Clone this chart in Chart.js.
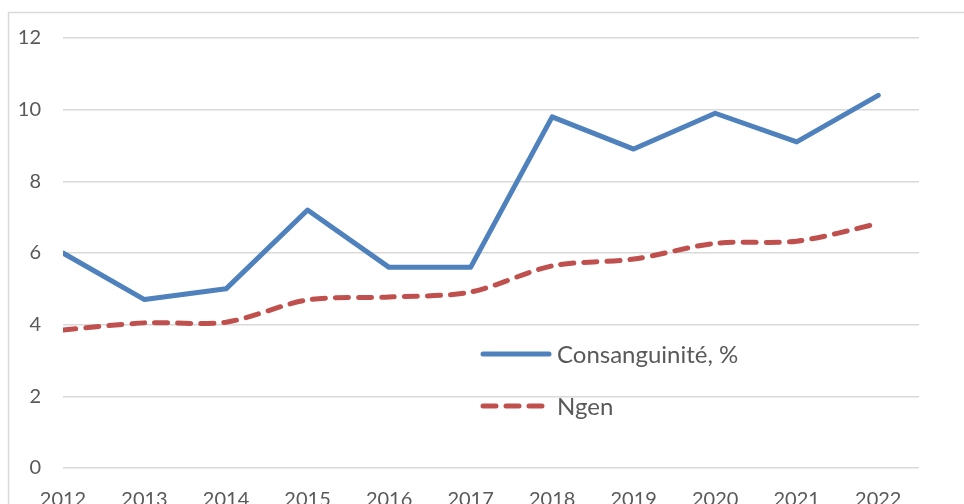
<!DOCTYPE html>
<html>
<head>
<meta charset="utf-8">
<script src="https://cdn.jsdelivr.net/npm/chart.js@4.4.1/dist/chart.umd.min.js"></script>
<style>
  html, body { margin: 0; padding: 0; background: #fff; overflow: hidden; }
  #wrap { position: relative; width: 964px; height: 504px; }
</style>
</head>
<body>
<div id="wrap"><canvas id="c" width="964" height="504"></canvas></div>
<script>
const years = [2012, 2013, 2014, 2015, 2016, 2017, 2018, 2019, 2020, 2021, 2022];
const consanguinite = [6.0, 4.7, 5.0, 7.2, 5.6, 5.6, 9.8, 8.9, 9.9, 9.1, 10.4];
const ngen = [3.85, 4.05, 4.07, 4.69, 4.77, 4.91, 5.64, 5.83, 6.27, 6.33, 6.82];
const seriesNames = ['Consanguinité, %', 'Ngen'];
const yTicks = [0, 2, 4, 6, 8, 10, 12];

const FONT = 'Lato, "Open Sans", sans-serif';
const TEXT = '#595959';

const framePlugin = {
  id: 'frame',
  beforeDraw(chart) {
    const ctx = chart.ctx;
    ctx.save();
    ctx.fillStyle = '#fff';
    ctx.fillRect(0, 0, chart.width, chart.height);
    ctx.strokeStyle = '#d9d9d9';
    ctx.lineWidth = 1.5;
    ctx.strokeRect(8.5, 12.5, 2000, 2000);
    ctx.restore();
  }
};

const legendPlugin = {
  id: 'innerLegend',
  afterDraw(chart) {
    const ctx = chart.ctx;
    const rows = [354, 406];
    ctx.save();
    chart.data.datasets.forEach((ds, i) => {
      const y = rows[i];
      ctx.beginPath();
      ctx.strokeStyle = ds.borderColor;
      ctx.lineWidth = ds.borderWidth;
      ctx.lineCap = 'round';
      ctx.setLineDash(ds.borderDash || []);
      ctx.moveTo(483, y);
      ctx.lineTo(i === 0 ? 549 : 546, y);
      ctx.stroke();
      ctx.setLineDash([]);
      ctx.fillStyle = TEXT;
      ctx.font = '24px ' + FONT;
      ctx.textBaseline = 'middle';
      ctx.textAlign = 'left';
      ctx.fillText(ds.label, 557, y + 1);
    });
    ctx.restore();
  }
};

new Chart(document.getElementById('c'), {
  type: 'line',
  data: {
    datasets: [
      {
        label: seriesNames[0],
        data: years.map((x, i) => ({ x, y: consanguinite[i] })),
        borderColor: '#4F81BD',
        borderWidth: 5,
        borderCapStyle: 'round',
        borderJoinStyle: 'round',
        pointRadius: 0,
        tension: 0
      },
      {
        label: seriesNames[1],
        data: years.map((x, i) => ({ x, y: ngen[i] })),
        borderColor: '#C0504D',
        borderWidth: 5,
        borderDash: [13, 10],
        borderCapStyle: 'round',
        borderJoinStyle: 'round',
        pointRadius: 0,
        tension: 0.3
      }
    ]
  },
  options: {
    responsive: false,
    animation: false,
    layout: { padding: { top: 38, right: 45, left: 0, bottom: 0 } },
    plugins: { legend: { display: false }, tooltip: { enabled: false } },
    scales: {
      x: {
        type: 'linear',
        min: years[0],
        max: years[years.length - 1] + 0.5,
        afterBuildTicks(scale) {
          scale.ticks = years.map(v => ({ value: v }));
        },
        afterFit(scale) { scale.height = 36; },
        grid: { display: false, drawTicks: false },
        border: { display: false },
        ticks: {
          autoSkip: false,
          maxRotation: 0,
          padding: 20,
          color: TEXT,
          font: { family: FONT, size: 20 },
          callback: v => String(v)
        }
      },
      y: {
        min: 0,
        max: 12,
        afterBuildTicks(scale) {
          scale.ticks = yTicks.map(v => ({ value: v }));
        },
        afterFit(scale) { scale.width = 63; },
        grid: { color: '#d9d9d9', lineWidth: 1.5, drawTicks: false },
        border: { display: false },
        ticks: {
          padding: 22,
          color: TEXT,
          font: { family: FONT, size: 20 },
          callback: v => String(v)
        }
      }
    }
  },
  plugins: [framePlugin, legendPlugin]
});
</script>
</body>
</html>
